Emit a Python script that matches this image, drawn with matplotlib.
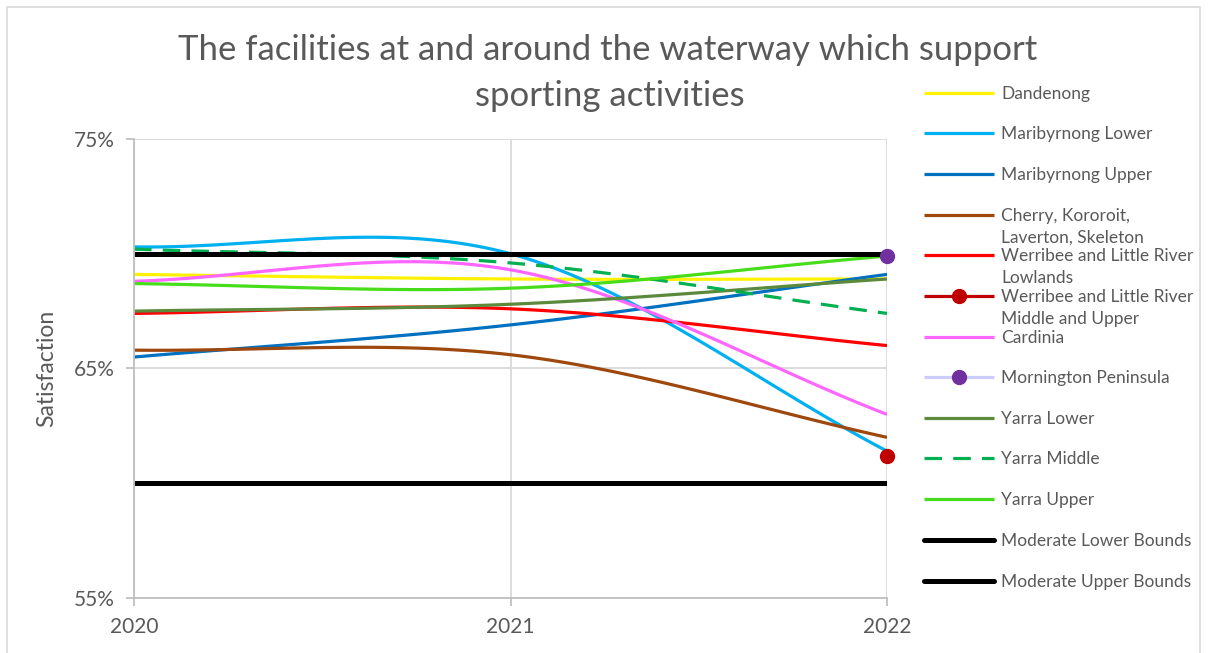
import numpy as np
import matplotlib.pyplot as plt
from matplotlib.lines import Line2D
from matplotlib.patches import Rectangle

plt.rcParams['font.family'] = ['Lato', 'DejaVu Sans']

# data (satisfaction, %)
years = ['2020', '2021', '2022']
dandenong = [69.1, 68.9, 68.9]
maribyrnong_lower = [70.3, 70.0, 61.4]
maribyrnong_upper = [65.5, 66.9, 69.1]
cherry = [65.8, 65.6, 62.0]
werribee_low = [67.4, 67.6, 66.0]
werribee_mid = [None, None, 61.2]
cardinia = [68.8, 69.3, 63.0]
mornington = [None, None, 69.9]
yarra_lower = [67.5, 67.8, 68.9]
yarra_middle = [70.2, 69.6, 67.4]
yarra_upper = [68.7, 68.5, 69.9]
mod_lower = [60, 60, 60]
mod_upper = [70, 70, 70]

series = [
    ('Dandenong', dandenong, dict(color='#FFF200', lw=2.3)),
    ('Maribyrnong Lower', maribyrnong_lower, dict(color='#00B0F0', lw=2.3)),
    ('Maribyrnong Upper', maribyrnong_upper, dict(color='#0070C0', lw=2.3)),
    ('Cherry, Kororoit,\nLaverton, Skeleton', cherry, dict(color='#9E480E', lw=2.3)),
    ('Werribee and Little River\nLowlands', werribee_low, dict(color='#FF0000', lw=2.3)),
    ('Werribee and Little River\nMiddle and Upper', werribee_mid,
     dict(color='#C00000', lw=2.3, marker='o', ms=10)),
    ('Cardinia', cardinia, dict(color='#FF66FF', lw=2.3)),
    ('Mornington Peninsula', mornington,
     dict(color='#CCCCFF', lw=2.3, marker='o', ms=10, mfc='#7030A0', mec='#7030A0')),
    ('Yarra Lower', yarra_lower, dict(color='#5B8A3C', lw=2.3)),
    ('Yarra Middle', yarra_middle, dict(color='#00B050', lw=2.3, ls=(0, (5.5, 3.5)))),
    ('Yarra Upper', yarra_upper, dict(color='#47DD1A', lw=2.3)),
    ('Moderate Lower Bounds', mod_lower, dict(color='black', lw=3.6)),
    ('Moderate Upper Bounds', mod_upper, dict(color='black', lw=3.6)),
]


def smooth(y, n=60):
    # Catmull-Rom style curve through the points, like Excel's smoothed line
    y = np.asarray(y, float)
    x = np.arange(len(y), dtype=float)
    if len(y) < 2:
        return x, y
    m = np.gradient(y)
    xs, ys = [], []
    for i in range(len(y) - 1):
        t = np.linspace(0, 1, n)
        h00 = 2*t**3 - 3*t**2 + 1
        h10 = t**3 - 2*t**2 + t
        h01 = -2*t**3 + 3*t**2
        h11 = t**3 - t**2
        ys.append(h00*y[i] + h10*m[i] + h01*y[i+1] + h11*m[i+1])
        xs.append(x[i] + t)
    return np.concatenate(xs), np.concatenate(ys)


W, H = 1209, 653
fig = plt.figure(figsize=(W/100, H/100), dpi=100)
ax = fig.add_axes([134/W, 1-598/H, (887-134)/W, (598-139)/H])

grid_c = '#D9D9D9'
for name, vals, st in series:
    st = dict(st)
    mk = {k: st.pop(k) for k in ['marker', 'ms', 'mfc', 'mec'] if k in st}
    pts = [(i, v) for i, v in enumerate(vals) if v is not None]
    if len(pts) > 1:
        xs, ys = smooth([v for _, v in pts])
        ax.plot(xs + pts[0][0], ys, solid_capstyle='butt', **st)
    if mk:
        ax.plot([p[0] for p in pts], [p[1] for p in pts], ls='none',
                marker=mk['marker'], ms=mk['ms'],
                mfc=mk.get('mfc', st['color']), mec=mk.get('mec', st['color']),
                clip_on=False, zorder=5)

ax.set_xlim(0, 2)
ax.set_ylim(55, 75)
ax.set_xticks(range(3))
ax.set_xticklabels(years)
ax.set_yticks([55, 65, 75])
ax.set_yticklabels(['55%', '65%', '75%'])
ax.grid(True, color=grid_c, lw=1.3)
ax.set_axisbelow(True)
for s in ['top', 'right']:
    ax.spines[s].set_visible(False)
for s in ['left', 'bottom']:
    ax.spines[s].set_color('#BFBFBF')
    ax.spines[s].set_linewidth(1.3)
ax.tick_params(axis='both', colors='#BFBFBF', length=6, width=1.3,
               labelcolor='#595959', labelsize=15)
ax.tick_params(axis='x', pad=8)
ax.tick_params(axis='y', pad=8)
ax.set_ylabel('Satisfaction', fontsize=16.5, color='#595959', labelpad=12)

# title, two lines as in the chart
fig.text(608/W, 1-50/H, 'The facilities at and around the waterway which support',
         ha='center', va='center', fontsize=25, color='#595959')
fig.text(610/W, 1-96/H, 'sporting activities',
         ha='center', va='center', fontsize=25, color='#595959')

# legend drawn to match the chart's fixed-height entries
leg_y = [93, 133, 174, 215, 255, 296, 337, 377, 418, 458, 499, 540, 581]
for (name, vals, st), yp in zip(series, leg_y):
    yf = 1 - yp/H
    lw = st['lw']
    fig.add_artist(Line2D([924/W, 994/W], [yf, yf], color=st['color'], lw=lw,
                          ls=st.get('ls', '-'),
                          solid_capstyle='round' if lw > 3 else 'butt'))
    if 'marker' in st:
        fig.add_artist(Line2D([959/W], [yf], ls='none', marker='o', ms=st['ms'],
                              mfc=st.get('mfc', st['color']),
                              mec=st.get('mec', st['color'])))
    fig.text(1001/W, yf + 7/H, name, ha='left', va='top', fontsize=12.5,
             color='#595959', linespacing=1.45)

fig.add_artist(Rectangle((7/W, -0.1), (1200-7)/W, 1 - 7/H + 0.1,
                         fill=False, ec='#D9D9D9', lw=1.2, transform=fig.transFigure))

fig.savefig('out.png', dpi=100)
